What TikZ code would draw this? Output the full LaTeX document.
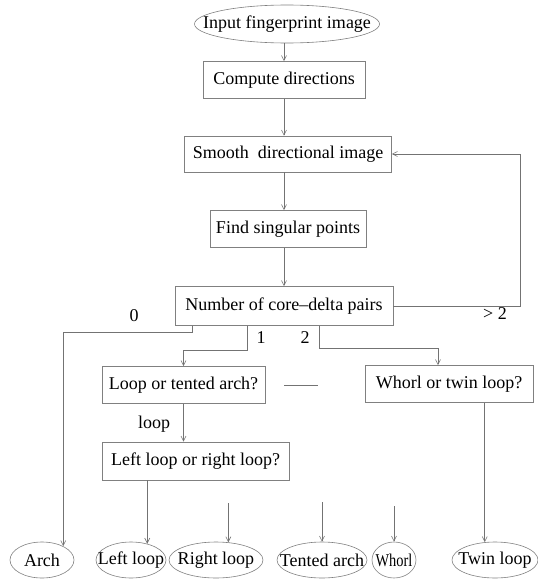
\documentclass[tikz,border=0pt]{standalone}
\usepackage{fontspec}
\usepackage{graphicx}
\setmainfont{Liberation Serif}
\usetikzlibrary{shapes.geometric,arrows.meta,calc}
\newcommand{\ovaltext}[1]{\makebox[0pt]{#1}}
\begin{document}
\begin{tikzpicture}[x=1pt,y=-1pt,
  every node/.style={font=\fontsize{18}{20}\selectfont, text=black},
  procbox/.style={draw=black!50, line width=0.6pt, rectangle, inner sep=0pt},
  oval/.style={draw=black!50, line width=0.6pt, ellipse, inner sep=0pt, minimum height=36pt},
  conn/.style={draw=black!55, line width=0.6pt},
  arr/.style={conn, -{Straight Barb[length=5pt,width=5pt]}},
  lbl/.style={inner sep=0pt}]
\useasboundingbox (0,0) rectangle (538,581);

% process nodes
\node[oval, minimum width=185pt, minimum height=38pt] (input) at (287,24) {\ovaltext{Input fingerprint image}};
\node[procbox, minimum width=162pt, minimum height=37pt] (compute) at (284,80) {Compute directions};
\node[procbox, minimum width=207pt, minimum height=36pt] (smooth) at (288,154) {Smooth~ directional image};
\node[procbox, minimum width=156pt, minimum height=37pt] (find) at (288,229) {Find singular points};
\node[procbox, minimum width=218pt, minimum height=39pt] (number) at (284,306) {Number of core--delta pairs};
\node[procbox, minimum width=163pt, minimum height=37pt] (loopq) at (183.5,385) {Loop or tented arch?};
\node[procbox, minimum width=168pt, minimum height=37pt] (whorlq) at (449,384) {Whorl or twin loop?};
\node[procbox, minimum width=187pt, minimum height=38pt] (lr) at (195.5,461) {Left loop or right loop?};

% classes
\node[oval, minimum width=64pt] (arch) at (42,560) {\ovaltext{Arch}};
\node[oval, minimum width=70pt] (leftloop) at (131,560) {\ovaltext{Left loop}};
\node[oval, minimum width=94pt] (rightloop) at (216,560) {\ovaltext{Right loop}};
\node[oval, minimum width=90pt] (tented) at (322,560) {\ovaltext{Tented arch}};
\node[oval, minimum width=44pt] (whorl) at (394,560) {\ovaltext{\scalebox{0.8}[1]{Whorl}}};
\node[oval, minimum width=86pt] (twin) at (495,560) {\ovaltext{Twin loop}};

% labels
\node[lbl] (l0) at (134,316) {0};
\node[lbl] (l1) at (261,338) {1};
\node[lbl] (l2) at (305,338) {2};
\node[lbl] (lgt) at (495,314) {> 2};
\node[lbl] (lloop) at (154,424) {loop};

% free ends
\coordinate (rlin) at (0,503);
\coordinate (tain) at (0,502);
\coordinate (whin) at (0,506);
\coordinate (tsa) at (284,385);
\coordinate (tsb) at (318,385);

% main column
\draw[arr] (compute.north |- input.south) -- (compute.north);
\draw[arr] (compute.south) -- (compute.south |- smooth.north);
\draw[arr] (compute.south |- smooth.south) -- (compute.south |- find.north);
\draw[arr] (compute.south |- find.south) -- (compute.south |- number.north);

% feedback > 2
\draw[arr] (number.east) -- ++(127,0) |- (smooth.east);

% 0 -> Arch
\draw[arr] ([xshift=18pt]number.south west) -- ++(0,6) -| (arch.33);
% 1 -> loop or tented arch
\draw[arr] ([xshift=-37pt]number.south) -- ++(0,24) -| (loopq.north);
% 2 -> whorl or twin loop
\draw[arr] ([xshift=35pt]number.south) -- ++(0,22) -| ([xshift=-11pt]whorlq.north);

% loop
\draw[arr] (loopq.south) -- (loopq.south |- lr.north);
\draw[conn] (tsa) -- (tsb);

% leaves
\draw[arr] (leftloop.45 |- lr.south) -- (leftloop.45);
\draw[arr] (rightloop.55 |- rlin) -- (rightloop.55);
\draw[arr] (tented.north |- tain) -- (tented.north);
\draw[arr] (whorl.north |- whin) -- (whorl.north);
\draw[arr] (twin.120 |- whorlq.south) -- (twin.120);
\end{tikzpicture}
\end{document}
